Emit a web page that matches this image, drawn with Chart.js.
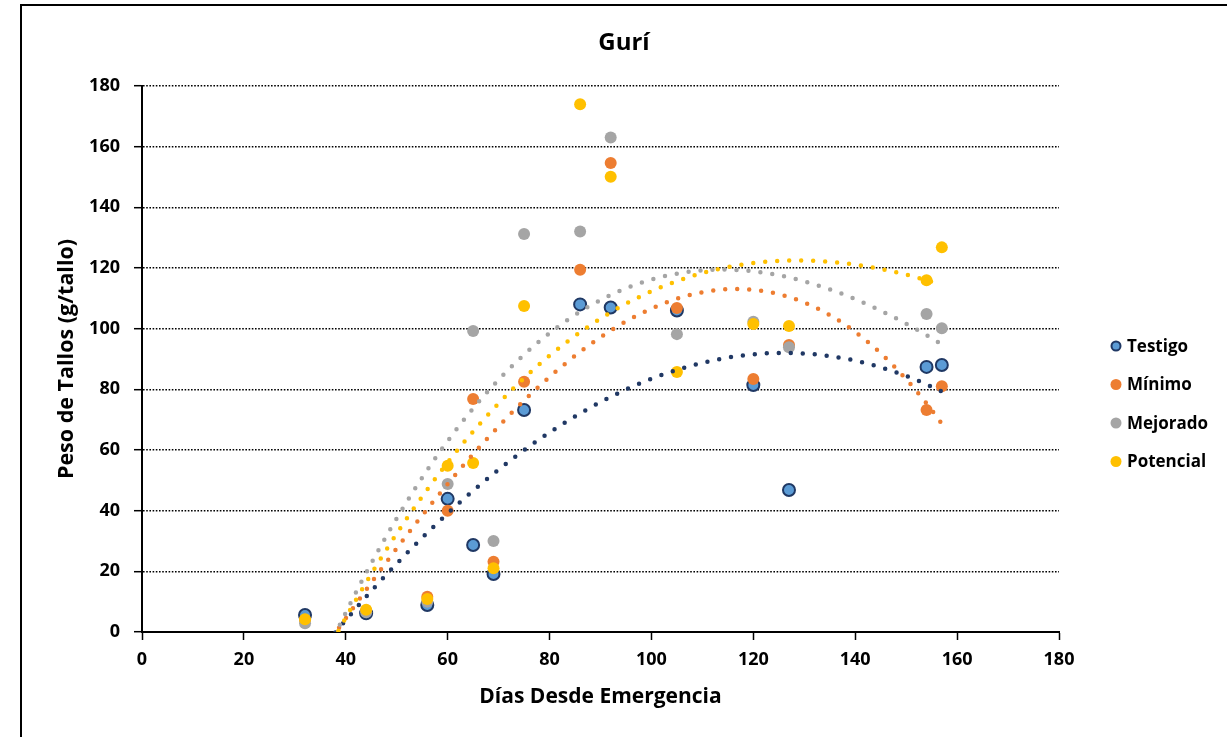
<!DOCTYPE html>
<html>
<head>
<meta charset="utf-8">
<script src="https://cdn.jsdelivr.net/npm/chart.js@4.4.1/dist/chart.umd.min.js"></script>
<style>
html, body { margin: 0; padding: 0; background: #fff; }
#marco { position: absolute; left: 20px; top: 4px; width: 1300px; height: 800px; border: 2px solid #000; box-sizing: border-box; }
#wrap { position: absolute; left: 0; top: 0; width: 1227px; height: 737px; }
</style>
</head>
<body>
<div id="marco"></div>
<div id="wrap"><canvas id="chart" width="1227" height="737"></canvas></div>
<script>
// Días desde emergencia y peso de tallos (g/tallo) por tratamiento
const dias      = [32, 44, 56, 60, 65, 69, 75, 86, 92, 105, 120, 127, 154, 157];
const testigo   = [5.6, 6.2, 8.9, 43.9, 28.7, 19.1, 73.2, 108.0, 107.0, 106.0, 81.4, 46.8, 87.4, 88.0];
const minimo    = [4.0, 7.0, 11.6, 40.0, 76.8, 23.2, 82.5, 119.4, 154.6, 106.8, 83.4, 94.6, 73.2, 81.0];
const mejorado  = [2.9, 6.5, 10.0, 48.8, 99.2, 30.0, 131.2, 132.0, 163.0, 98.2, 102.3, 93.9, 104.8, 100.1];
const potencial = [4.2, 7.3, 10.9, 54.8, 55.7, 21.0, 107.5, 174.0, 150.1, 85.7, 101.5, 100.9, 116.0, 126.8];

const ticksX = [0, 20, 40, 60, 80, 100, 120, 140, 160, 180];
const ticksY = [0, 20, 40, 60, 80, 100, 120, 140, 160, 180];

const ordenTendencia = 3;
const fuente = "'Open Sans', sans-serif";

// tendencia polinómica por mínimos cuadrados, como la de Excel
function ajuste(xs, ys, n) {
    const m = n + 1;
    const A = [];
    for (let r = 0; r < m; r++) {
        A.push(new Array(m + 1).fill(0));
        for (let i = 0; i < xs.length; i++) {
            for (let c = 0; c < m; c++) A[r][c] += Math.pow(xs[i], r + c);
            A[r][m] += Math.pow(xs[i], r) * ys[i];
        }
    }
    for (let c = 0; c < m; c++) {
        for (let r = c + 1; r < m; r++) {
            const f = A[r][c] / A[c][c];
            for (let k = c; k <= m; k++) A[r][k] -= f * A[c][k];
        }
    }
    const b = new Array(m).fill(0);
    for (let r = m - 1; r >= 0; r--) {
        let v = A[r][m];
        for (let k = r + 1; k < m; k++) v -= A[r][k] * b[k];
        b[r] = v / A[r][r];
    }
    return b;
}

function curva(ys) {
    const b = ajuste(dias, ys, ordenTendencia);
    const pts = [];
    const x0 = Math.min(...dias), x1 = Math.max(...dias);
    for (let x = x0; x <= x1; x += 0.5) {
        let y = 0;
        for (let k = b.length - 1; k >= 0; k--) y = y * x + b[k];
        pts.push({ x: x, y: y });
    }
    return pts;
}

function puntos(ys) { return dias.map((d, i) => ({ x: d, y: ys[i] })); }

const series = [
    { label: 'Testigo', ys: testigo, fill: '#5B9BD5', borde: '#1F3864', linea: '#203864' },
    { label: 'Mínimo', ys: minimo, fill: '#ED7D31', borde: '#ED7D31', linea: '#ED7D31' },
    { label: 'Mejorado', ys: mejorado, fill: '#A5A5A5', borde: '#A5A5A5', linea: '#A5A5A5' },
    { label: 'Potencial', ys: potencial, fill: '#FFC000', borde: '#FFC000', linea: '#FFC000' },
];

const datasets = [];
series.forEach((s, i) => {
    datasets.push({
        label: s.label,
        data: puntos(s.ys),
        backgroundColor: s.fill,
        borderColor: s.borde,
        borderWidth: i === 0 ? 2 : 0,
        pointRadius: 6,
        pointHoverRadius: 6,
        order: 13 - i,
    });
});
series.forEach((s, i) => {
    datasets.push({
        label: 'tend ' + s.label,
        data: curva(s.ys),
        showLine: true,
        borderColor: s.linea,
        borderWidth: 4.5,
        borderDash: [0, 12],
        borderCapStyle: 'round',
        pointRadius: 0,
        pointHoverRadius: 0,
        fill: false,
        clip: 0,
        order: 3 - i,
    });
});

const leyenda = {
    id: 'leyenda',
    afterDraw(chart) {
        const ctx = chart.ctx;
        ctx.save();
        ctx.font = "bold 17px " + fuente;
        ctx.textBaseline = 'middle';
        ctx.textAlign = 'left';
        series.forEach((s, i) => {
            const y = 346 + i * 38.5;
            ctx.beginPath();
            ctx.arc(1116, y, i === 0 ? 4.5 : 5.5, 0, Math.PI * 2);
            ctx.fillStyle = s.fill;
            ctx.fill();
            if (i === 0) { ctx.lineWidth = 2; ctx.strokeStyle = s.borde; ctx.stroke(); }
            ctx.fillStyle = '#000';
            ctx.fillText(s.label, 1127, y + 1);
        });
        ctx.restore();
    }
};

new Chart(document.getElementById('chart'), {
    type: 'scatter',
    data: { datasets: datasets },
    plugins: [leyenda],
    options: {
        responsive: false,
        animation: false,
        layout: { padding: { left: 21, right: 0, top: 0, bottom: 0 } },
        plugins: {
            legend: { display: false },
            tooltip: { enabled: false },
            title: {
                display: true,
                text: 'Gurí',
                color: '#000',
                font: { family: fuente, size: 24, weight: 'bold', lineHeight: 1.2 },
                padding: { top: 28.6, bottom: 28.6 },
            },
        },
        scales: {
            x: {
                type: 'linear',
                min: 0,
                max: 180,
                afterFit: (s) => { s.height = 105; },
                afterBuildTicks: (s) => { s.ticks = ticksX.map(v => ({ value: v })); },
                grid: { drawOnChartArea: false, drawTicks: true, tickLength: 8, tickColor: '#000', tickWidth: 1.5 },
                border: { color: '#000', width: 2 },
                ticks: { color: '#000', padding: 9, font: { family: fuente, size: 18, weight: 'bold' } },
                title: {
                    display: true,
                    text: 'Días Desde Emergencia',
                    color: '#000',
                    font: { family: fuente, size: 21, weight: 'bold', lineHeight: 1.2 },
                    padding: { top: 0, bottom: 27.4 },
                },
            },
            y: {
                type: 'linear',
                min: 0,
                max: 180,
                afterFit: (s) => { s.width = 121; },
                afterBuildTicks: (s) => { s.ticks = ticksY.map(v => ({ value: v })); },
                grid: { color: '#000', lineWidth: 1.4, drawTicks: true, tickLength: 8, tickColor: '#000', tickWidth: 1.5, tickBorderDash: [] },
                border: { color: '#000', width: 2, dash: [1.6, 1.6] },
                ticks: { color: '#000', padding: 14, font: { family: fuente, size: 18, weight: 'bold' } },
                title: {
                    display: true,
                    text: 'Peso de Tallos (g/tallo)',
                    color: '#000',
                    font: { family: fuente, size: 21.5, weight: 'bold', lineHeight: 1.2 },
                    padding: { top: 33, bottom: 0 },
                },
            },
            // espacio a la derecha para la leyenda
            margen: {
                type: 'linear',
                position: 'right',
                afterFit: (s) => { s.width = 168; },
                grid: { display: false, drawTicks: false },
                border: { display: false },
                ticks: { display: false },
            },
        },
    },
});
</script>
</body>
</html>
